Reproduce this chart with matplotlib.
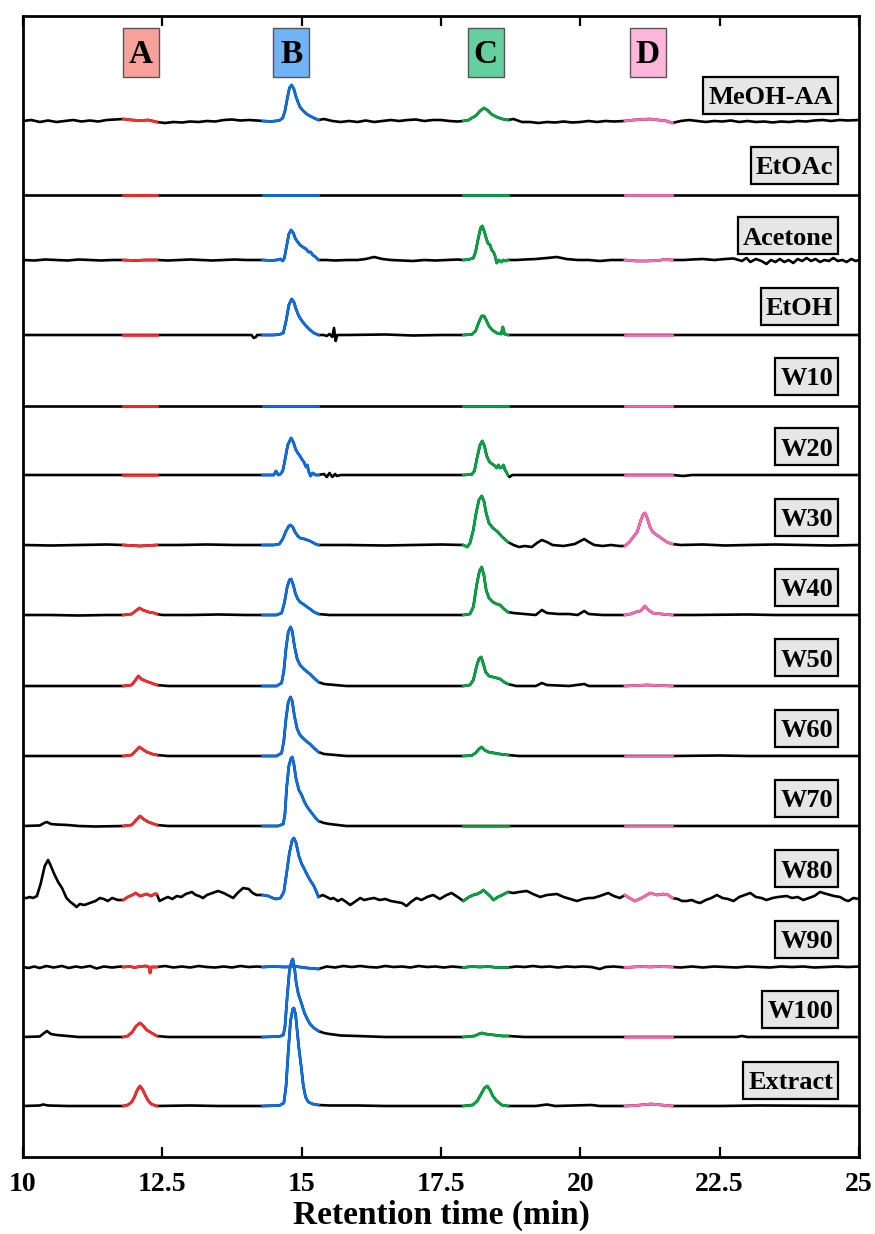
import matplotlib
matplotlib.use("Agg")
import matplotlib.pyplot as plt
from matplotlib.patches import Rectangle
import numpy as np

# ---------------- data (heights in display units above each trace baseline) ----------------
sample_labels = ["MeOH-AA", "EtOAc", "Acetone", "EtOH", "W10", "W20", "W30", "W40",
                 "W50", "W60", "W70", "W80", "W90", "W100", "Extract"]

peak_names = ["A", "B", "C", "D"]
peak_centers = [12.12, 14.81, 18.30, 21.21]
peak_windows = [(11.8, 12.4), (14.3, 15.3), (17.9, 18.7), (20.8, 21.65)]

x_ticks = [10, 12.5, 15, 17.5, 20, 22.5, 25]
x_ticklabels = ["10", "12.5", "15", "17.5", "20", "22.5", "25"]

meoh_aa = [(10.0,0),(10.15,1),(10.3,-1),(10.45,0.5),(10.6,-1),(10.75,0),(10.9,1),(11.05,-0.5),(11.2,0.5),
 (11.35,-0.5),(11.5,1),(11.65,1.5),(11.8,2),(11.95,1),(12.1,0.5),(12.25,1),(12.4,-1),(12.55,-2),(12.7,-1),
 (12.85,-1.5),(13.0,-0.5),(13.15,-1),(13.3,0),(13.45,-0.5),(13.6,1),(13.75,1.5),(13.9,0.5),(14.05,1),(14.2,0.5),
 (14.3,0),(14.45,-0.5),(14.6,0.5),(14.66,3),(14.7,10),(14.74,22),(14.78,33),(14.82,36),(14.86,32),(14.9,24),
 (14.94,18),(14.97,14),(15.03,10),(15.09,7),(15.15,5),(15.22,3),(15.3,1),(15.4,2),(15.55,0),(15.7,-1),(15.85,0),
 (16.0,-1),(16.15,0.5),(16.3,-1),(16.45,0),(16.6,1),(16.75,0),(16.9,1),(17.05,1.5),(17.2,0),(17.35,1),(17.5,1),
 (17.65,0),(17.8,-0.5),(17.9,0),(18.0,1),(18.05,3),(18.12,5),(18.2,10),(18.27,13),(18.33,11),(18.4,7),(18.5,4),
 (18.6,2),(18.7,1),(18.8,2),(18.95,-1),(19.1,-1),(19.25,-2),(19.4,-1),(19.55,-1.5),(19.7,-0.5),(19.85,-1.5),
 (20.0,-1),(20.15,0),(20.3,-1),(20.45,0),(20.6,-0.5),(20.8,0),(20.95,1),(21.1,1.5),(21.25,2),(21.4,1),(21.55,0),
 (21.65,-2),(21.8,0),(21.95,1),(22.1,0),(22.25,-1),(22.4,0),(22.55,-0.5),(22.7,0.5),(22.85,-1),(23.0,0),
 (23.15,-1),(23.3,-0.5),(23.45,-1.5),(23.6,-0.5),(23.75,-1),(23.9,0),(24.05,-0.5),(24.2,0.5),(24.35,1),(24.5,0),
 (24.65,1),(24.8,0.5),(25.0,1)]

etoac = [(10.0,0),(11.8,0),(12.4,0),(14.3,0),(15.3,0),(17.9,0),(18.7,0),(20.8,0),(21.65,0),(25.0,0)]

acetone = [(10.0,0),(10.2,-0.5),(10.4,0.5),(10.6,0),(10.8,-0.5),(11.0,0.5),(11.2,0),(11.4,-0.5),(11.6,0),
 (11.8,0),(12.0,-0.5),(12.2,0),(12.4,0),(12.6,-0.5),(12.8,0),(13.0,0.5),(13.2,0),(13.4,-0.5),(13.6,0),(13.8,0.5),
 (14.0,0),(14.15,0),(14.3,0),(14.45,-0.5),(14.55,0),(14.62,1),(14.66,-1),(14.69,2),(14.73,14),(14.77,26),
 (14.81,30),(14.85,27),(14.89,21),(14.93,18),(14.97,15),(15.02,13),(15.08,11),(15.12,8),(15.16,8),(15.2,5),
 (15.25,3),(15.3,0),(15.45,0),(15.6,-0.5),(15.8,0),(16.0,0),(16.15,1),(16.3,3),(16.45,1),(16.6,0),(16.8,-0.5),
 (17.0,-1),(17.2,0),(17.4,-0.5),(17.6,0),(17.8,0.5),(17.9,0),(18.0,0.5),(18.08,2),(18.12,8),(18.17,22),
 (18.21,32),(18.24,34),(18.28,28),(18.31,22),(18.34,17),(18.38,15),(18.41,10),(18.44,8),(18.47,4),(18.5,-3),
 (18.54,0),(18.58,-2),(18.62,0),(18.66,-1),(18.7,0),(18.85,0),(19.0,0.5),(19.2,1),(19.4,2),(19.58,3),(19.75,1),
 (19.95,0),(20.15,0),(20.35,-1),(20.55,0),(20.8,0),(21.0,-1),(21.2,-1),(21.4,-0.5),(21.5,0.5),(21.65,0),
 (21.85,0),(22.0,0.5),(22.2,1),(22.4,0),(22.6,1),(22.75,1.5),(22.9,-1),(22.98,2),(23.05,-2),(23.15,1),
 (23.25,-1),(23.34,-4),(23.42,0),(23.5,-2),(23.58,1),(23.66,-2),(23.74,0),(23.82,-3),(23.9,1),(23.98,-1),
 (24.06,2),(24.14,-1),(24.22,1),(24.3,-2),(24.38,0),(24.46,-1),(24.54,2),(24.62,-1),(24.7,0),(24.78,-2),
 (24.86,1),(24.94,-1),(25.0,0)]

etoh = [(10.0,0),(11.8,0),(12.4,0),(13.5,0),(13.9,0),(14.1,0),(14.14,-3),(14.18,-2),(14.2,0),(14.3,0),(14.5,0),
 (14.6,0.5),(14.67,2),(14.72,14),(14.77,30),(14.82,36),(14.86,33),(14.9,26),(14.94,20),(14.97,17),(15.02,13),
 (15.08,9),(15.15,5),(15.22,2),(15.3,0),(15.4,0),(15.45,-1),(15.5,1),(15.55,-2),(15.58,7),(15.61,-6),(15.64,0),
 (15.8,0),(16.5,0.5),(17.0,-0.5),(17.5,0),(17.9,0),(18.05,0.5),(18.12,4),(18.18,13),(18.23,19),(18.27,19),
 (18.31,15),(18.36,9),(18.42,5),(18.5,2),(18.58,1),(18.61,8),(18.64,1),(18.7,0),(19.0,0),(20.0,0),(20.8,0),
 (21.65,0),(25.0,0)]

w10 = [(10.0,0),(11.8,0),(12.4,0),(14.3,0),(15.3,0),(17.9,0),(18.7,0),(20.8,0),(21.65,0),(25.0,0)]

w20 = [(10.0,0),(11.8,0),(12.4,0),(14.3,0),(14.5,0),(14.54,4),(14.58,0),(14.62,1),(14.66,4),(14.7,15),
 (14.75,30),(14.81,37),(14.85,33),(14.89,26),(14.93,22),(14.97,19),(15.0,16),(15.04,13),(15.08,8),(15.1,10),
 (15.13,3),(15.16,-1),(15.2,2),(15.25,0),(15.3,0),(15.4,1),(15.45,-2),(15.5,2),(15.55,-2),(15.6,1),(15.63,-1),
 (15.7,0),(17.9,0),(18.05,0.5),(18.1,4),(18.15,18),(18.2,30),(18.24,34),(18.28,29),(18.32,19),(18.37,13),
 (18.42,11),(18.47,9),(18.5,7),(18.53,10),(18.56,7),(18.6,8),(18.62,10),(18.65,5),(18.7,0),(18.73,-2),
 (18.78,0),(20.8,0),(21.65,0),(21.85,-1),(22.0,0),(25.0,0)]

w30 = [(10.0,0),(10.5,-0.5),(11.0,0),(11.5,0.5),(11.8,0),(12.1,-1),(12.4,0),(12.8,0),(13.3,0.5),(13.8,0),
 (14.3,0),(14.5,0),(14.6,1),(14.66,6),(14.72,14),(14.77,19),(14.8,20),(14.84,18),(14.88,13),(14.93,9),
 (14.97,7),(15.05,6),(15.15,4),(15.25,1),(15.3,0),(15.8,0),(16.5,-0.5),(17.0,0),(17.5,0.5),(17.9,0),(17.97,-2),
 (18.02,2),(18.08,15),(18.13,32),(18.18,45),(18.23,49),(18.27,44),(18.31,32),(18.36,22),(18.43,17),(18.52,13),
 (18.6,8),(18.68,4),(18.7,3),(18.8,0),(18.9,-2),(19.0,-1),(19.13,-2),(19.22,2),(19.31,5),(19.4,3),(19.5,0),
 (19.7,-1),(19.9,1),(20.07,6),(20.15,3),(20.25,0),(20.4,-1),(20.55,0),(20.7,-1),(20.8,-1),(20.88,3),(20.95,8),
 (21.02,13),(21.08,24),(21.13,31),(21.16,32),(21.2,27),(21.25,18),(21.3,13),(21.37,10),(21.45,7),(21.55,3),
 (21.65,1),(21.8,0),(22.2,0.5),(22.6,-0.5),(23.0,0),(23.5,0.5),(24.0,0),(24.5,-0.5),(25.0,0)]

w40 = [(10.0,0),(10.5,0),(11.0,-0.5),(11.5,0),(11.8,0),(11.95,1),(12.02,4),(12.09,7),(12.15,5),(12.25,3),
 (12.35,2),(12.4,1),(12.5,0),(13.0,0),(13.5,0.5),(14.0,0),(14.3,0),(14.55,0),(14.64,2),(14.69,12),(14.74,28),
 (14.78,35),(14.81,36),(14.85,30),(14.89,21),(14.93,16),(14.97,13),(15.05,10),(15.15,6),(15.22,3),(15.3,1),
 (15.5,0),(16.5,0),(17.5,0),(17.9,0),(18.02,1),(18.08,8),(18.14,30),(18.19,44),(18.23,48),(18.27,40),
 (18.31,25),(18.36,17),(18.43,13),(18.5,11),(18.56,10),(18.63,6),(18.7,3),(18.8,2),(19.0,1),(19.2,0),
 (19.31,5),(19.4,2),(19.6,1),(19.8,1),(19.95,0),(20.07,4),(20.15,1),(20.4,0),(20.8,0),(20.9,1),(21.0,3),
 (21.08,4),(21.16,9),(21.22,5),(21.3,2),(21.45,1),(21.65,0),(22.0,0),(23.0,0.5),(23.5,0),(25.0,0)]

w50 = [(10.0,0),(11.0,0),(11.8,0),(11.95,1),(12.02,6),(12.07,10),(12.12,7),(12.2,5),(12.3,3),(12.4,1),
 (12.6,0),(13.0,0),(14.3,0),(14.55,0),(14.64,3),(14.68,15),(14.72,38),(14.76,54),(14.8,59),(14.83,55),
 (14.87,40),(14.92,27),(14.97,21),(15.04,17),(15.1,14),(15.15,12),(15.22,8),(15.3,4),(15.4,2),(15.6,1),
 (15.8,0),(17.9,0),(18.02,1),(18.08,6),(18.14,20),(18.18,27),(18.22,29),(18.26,22),(18.3,14),(18.36,10),
 (18.43,9),(18.5,8),(18.56,7),(18.63,4),(18.7,2),(18.85,0),(19.2,0),(19.31,3),(19.4,1),(19.8,0),(20.07,2),
 (20.15,0),(20.8,0),(21.0,0.5),(21.2,1),(21.4,0.5),(21.65,0),(25.0,0)]

w60 = [(10.0,0),(11.8,0),(11.95,1),(12.02,5),(12.09,9),(12.14,7),(12.22,4),(12.32,2),(12.4,1),(12.6,0),
 (14.3,0),(14.55,0),(14.64,3),(14.68,15),(14.72,38),(14.76,54),(14.8,59),(14.83,55),(14.87,40),(14.92,27),
 (14.97,21),(15.04,17),(15.1,14),(15.15,12),(15.22,8),(15.3,4),(15.4,2),(15.6,1),(15.8,0),(17.9,0),
 (18.05,0.5),(18.12,3),(18.18,7),(18.23,9),(18.28,6),(18.35,4),(18.45,3),(18.55,2),(18.7,1),(18.9,0),
 (20.8,0),(21.65,0),(22.5,0.5),(23.0,0),(25.0,0)]

w70 = [(10.0,0),(10.3,0.5),(10.38,3),(10.43,4),(10.5,2),(10.6,1.5),(10.8,1),(11.0,0),(11.3,-0.5),(11.8,0),
 (11.95,1),(12.03,6),(12.1,10),(12.16,7),(12.25,4),(12.35,2),(12.4,1),(12.6,0),(14.3,0),(14.58,0),(14.67,2),
 (14.7,12),(14.73,38),(14.77,60),(14.81,68),(14.83,69),(14.86,62),(14.9,47),(14.95,36),(15.0,31),(15.05,24),
 (15.1,19),(15.18,13),(15.25,8),(15.3,5),(15.4,3),(15.5,2),(15.8,0),(17.9,0),(18.7,0),(20.8,0),(21.65,0),
 (22.5,0),(25.0,0)]

w80 = [(10.0,0),(10.07,0),(10.12,1),(10.18,0),(10.25,2),(10.32,15),(10.39,32),(10.45,38),(10.5,32),(10.56,24),
 (10.63,16),(10.7,10),(10.78,0),(10.85,-4),(10.9,-6),(10.96,-9),(11.02,-6),(11.1,-7),(11.2,-5),(11.3,-3),
 (11.38,0),(11.45,-1),(11.52,-3),(11.6,0),(11.7,-2),(11.8,-2),(11.88,1),(11.96,3),(12.02,5),(12.1,2),
 (12.16,3),(12.22,4),(12.3,2),(12.36,4),(12.4,4),(12.45,-3),(12.52,-1),(12.6,1),(12.68,-1),(12.76,2),
 (12.84,1),(12.92,4),(13.03,6),(13.1,3),(13.16,2),(13.23,0),(13.3,3),(13.4,5),(13.5,7),(13.6,5),(13.7,2),
 (13.77,0),(13.85,5),(13.95,10),(14.05,9),(14.12,5),(14.19,3),(14.25,3),(14.3,3),(14.4,2),(14.48,0),
 (14.55,-1),(14.62,0),(14.68,6),(14.73,25),(14.78,45),(14.83,58),(14.86,60),(14.9,55),(14.95,42),(15.0,34),
 (15.03,31),(15.1,23),(15.16,17),(15.21,13),(15.26,7),(15.3,1),(15.38,3),(15.45,1),(15.52,-1),(15.57,0),
 (15.65,-3),(15.72,-1),(15.8,-4),(15.87,-7),(15.95,-4),(16.05,0),(16.12,-2),(16.2,-1),(16.3,0),(16.4,-2),
 (16.5,-1),(16.6,-3),(16.7,-4),(16.8,-5),(16.88,-8),(16.96,-4),(17.06,0),(17.15,-2),(17.25,1),(17.36,3),
 (17.48,-1),(17.6,3),(17.69,5),(17.8,1),(17.9,-3),(18.0,1),(18.08,3),(18.15,4),(18.22,6),(18.26,8),
 (18.32,5),(18.38,2),(18.44,-2),(18.52,1),(18.6,3),(18.7,6),(18.8,5),(18.9,6),(19.04,7),(19.15,4),(19.28,1),
 (19.4,3),(19.58,4),(19.7,1),(19.82,-1),(19.94,-3),(20.05,-1),(20.15,0),(20.23,0),(20.35,2),(20.5,5),
 (20.6,2),(20.71,0),(20.8,3),(20.88,0),(20.98,-3),(21.1,0),(21.25,5),(21.38,3),(21.49,4),(21.58,3),
 (21.65,0),(21.75,-1),(21.82,-3),(21.91,-3),(22.0,-2),(22.08,-4),(22.15,-5),(22.25,-2),(22.35,0),(22.45,3),
 (22.55,0),(22.65,-1),(22.75,-3),(22.85,1),(22.95,3),(23.05,5),(23.15,1),(23.25,0),(23.34,-2),(23.45,0),
 (23.55,1),(23.7,2),(23.8,0),(23.9,1),(24.0,-2),(24.1,0),(24.2,2),(24.3,6),(24.42,4),(24.55,2),(24.66,1),
 (24.75,-2),(24.81,-3),(24.9,0),(25.0,-1)]

w90 = [(10.0,0),(10.1,-1),(10.2,0.5),(10.3,-1),(10.42,1),(10.55,-0.5),(10.7,1),(10.82,-1),(10.95,0.5),
 (11.05,-0.5),(11.2,1),(11.32,-1.5),(11.45,0.5),(11.6,-0.5),(11.75,0.5),(11.8,0),(11.92,0.5),(12.0,-0.5),
 (12.1,0.5),(12.2,1),(12.26,0),(12.28,-6),(12.3,0),(12.4,0),(12.55,1),(12.7,-0.5),(12.85,0.5),(13.0,-0.5),
 (13.15,1),(13.3,0),(13.45,-0.5),(13.6,0.5),(13.75,-0.5),(13.9,1),(14.05,0),(14.2,0.5),(14.3,0),(14.5,0.5),
 (14.7,0),(14.9,0.5),(15.1,-1),(15.3,-2),(15.45,0.5),(15.6,-0.5),(15.75,1),(15.9,0),(16.05,1),(16.2,0),
 (16.35,-0.5),(16.5,1),(16.65,0),(16.8,0.5),(16.95,-0.5),(17.1,1),(17.25,0),(17.4,0.5),(17.55,-0.5),
 (17.7,0.5),(17.9,-0.5),(18.05,0.5),(18.2,0),(18.35,0.5),(18.5,-0.5),(18.7,-0.5),(18.85,0.5),(19.0,0),
 (19.15,1),(19.3,0),(19.45,0.5),(19.6,-0.5),(19.75,0.5),(19.9,0),(20.05,0.5),(20.2,0),(20.35,-2),(20.45,0),
 (20.6,0.5),(20.8,-0.5),(20.95,0),(21.1,0.5),(21.25,0),(21.4,0.5),(21.65,0),(21.8,-0.5),(22.0,0.5),
 (22.2,-0.5),(22.4,0.5),(22.6,0),(22.8,-0.5),(23.0,0.5),(23.2,0),(23.4,-0.5),(23.6,0.5),(23.8,0),(24.0,0.5),
 (24.2,-0.5),(24.4,0),(24.6,0.5),(24.8,0),(25.0,0.5)]

w100 = [(10.0,0),(10.3,0.5),(10.38,4),(10.43,6),(10.5,3),(10.6,2),(10.8,1),(11.0,0),(11.8,0),(11.88,1),
 (11.96,5),(12.03,11),(12.1,14),(12.16,11),(12.22,7),(12.28,5),(12.34,3),(12.4,1),(12.6,0),(14.3,0),
 (14.6,0.5),(14.67,2),(14.7,10),(14.74,40),(14.78,66),(14.82,76),(14.84,78),(14.87,70),(14.9,55),(14.94,43),
 (15.0,33),(15.05,24),(15.1,18),(15.15,13),(15.22,9),(15.3,6),(15.4,4),(15.5,3),(15.7,1.5),(16.0,1),
 (16.5,0),(17.9,0),(18.1,1),(18.18,3),(18.23,4),(18.3,3),(18.45,2),(18.6,1),(18.7,1),(19.0,0),(20.8,0),
 (21.65,0),(22.8,0),(22.9,1),(23.0,0),(25.0,0)]

extract = [(10.0,0),(10.3,0.5),(10.36,1.5),(10.45,0.5),(10.8,0),(11.8,0),(11.88,1),(11.95,4),(12.0,9),
 (12.05,16),(12.1,20),(12.15,16),(12.2,10),(12.25,5),(12.3,2),(12.37,0.5),(12.4,0),(13.0,0.5),(13.5,0),
 (14.3,0),(14.6,0.5),(14.68,3),(14.72,20),(14.76,55),(14.8,85),(14.84,97),(14.86,98),(14.89,92),(14.92,75),
 (14.95,58),(14.99,40),(15.03,20),(15.07,9),(15.12,4),(15.2,2),(15.3,1),(15.5,0.5),(16.0,0.5),(16.5,0),
 (17.5,0),(17.9,0),(18.07,1),(18.15,5),(18.22,12),(18.28,18),(18.33,20),(18.38,16),(18.43,10),(18.5,5),
 (18.59,1),(18.7,0),(19.2,0),(19.4,1.5),(19.55,0),(20.2,1),(20.35,0),(20.8,0),(21.0,0.5),(21.15,1.5),
 (21.28,2),(21.45,1),(21.65,0),(22.5,0),(23.2,0.5),(25.0,0)]

traces = [meoh_aa, etoac, acetone, etoh, w10, w20, w30, w40, w50, w60, w70, w80, w90, w100, extract]

# ---------------- layout / style ----------------
offsets = [1036, 962, 897, 822, 751, 682, 612, 542, 471, 401, 331, 259, 190, 120, 51]
label_y0, label_step = 1062, 70.36     # label box centres (1 y-unit = 1 px)
label_text_right = 24.535
label_box_right = 24.625
label_box_h = 37
peak_label_y = 1105
peak_box_w, peak_box_h = 36, 49         # pixels
line_colors = ["#ff2b2b", "#0a6ee6", "#00a541", "#ff69b4"]
box_colors = ["#f8a19b", "#70b3f7", "#66cf9f", "#ffb6da"]

serif = ["Liberation Serif", "DejaVu Serif"]
plt.rcParams["font.family"] = serif
plt.rcParams["font.weight"] = "bold"

fig = plt.figure(figsize=(8.75, 12.34), dpi=100)
ax = fig.add_axes([23 / 875, 77 / 1234, 836 / 875, 1141 / 1234])
ax.set_xlim(10, 25)
ax.set_ylim(0, 1141)
px_per_min = 836 / 15.0

lw = 1.9
label_texts = []
for i, pts in enumerate(traces):
    t = np.array([p[0] for p in pts])
    y = np.array([p[1] for p in pts]) + offsets[i]
    ax.plot(t, y, color="black", lw=lw, solid_joinstyle="round", zorder=2)
    for (lo, hi), c in zip(peak_windows, line_colors):
        m = (t >= lo - 1e-9) & (t <= hi + 1e-9)
        ax.plot(t[m], y[m], color=c, lw=lw, solid_joinstyle="round", zorder=3)
    yc = label_y0 - label_step * i
    txt = ax.text(label_text_right, yc - 8.8, sample_labels[i], ha="right", va="baseline",
                  fontsize=19, fontweight="bold", family=serif, zorder=6)
    label_texts.append((txt, yc))

for name, xc, fc in zip(peak_names, peak_centers, box_colors):
    ax.add_patch(Rectangle((xc - peak_box_w / 2 / px_per_min, peak_label_y - peak_box_h / 2),
                           peak_box_w / px_per_min, peak_box_h, fc=fc, ec="#555555", lw=1.0,
                           zorder=5, clip_on=False))
    ax.text(xc, peak_label_y - 11, name, ha="center", va="baseline", fontsize=24,
            fontweight="bold", family=serif, zorder=6)

# label boxes sized from the rendered text width
fig.canvas.draw()
renderer = fig.canvas.get_renderer()
for txt, yc in label_texts:
    bb = txt.get_window_extent(renderer)
    x_left = ax.transData.inverted().transform((bb.x0, bb.y0))[0] - 5 / px_per_min
    ax.add_patch(Rectangle((x_left, yc - label_box_h / 2), label_box_right - x_left, label_box_h,
                           fc="#e6e6e6", ec="black", lw=1.6, zorder=5))

ax.set_xticks(x_ticks)
ax.set_xticklabels(x_ticklabels)
ax.set_yticks([])
ax.tick_params(axis="x", direction="in", top=True, bottom=True, length=7, width=1.6,
               labelsize=20, pad=11)
for lab in ax.get_xticklabels():
    lab.set_fontweight("bold")
for s in ax.spines.values():
    s.set_linewidth(2.0)
    s.set_zorder(7)
ax.set_xlabel("Retention time (min)", fontsize=24, fontweight="bold", labelpad=2)

fig.savefig("out.png", dpi=100)
